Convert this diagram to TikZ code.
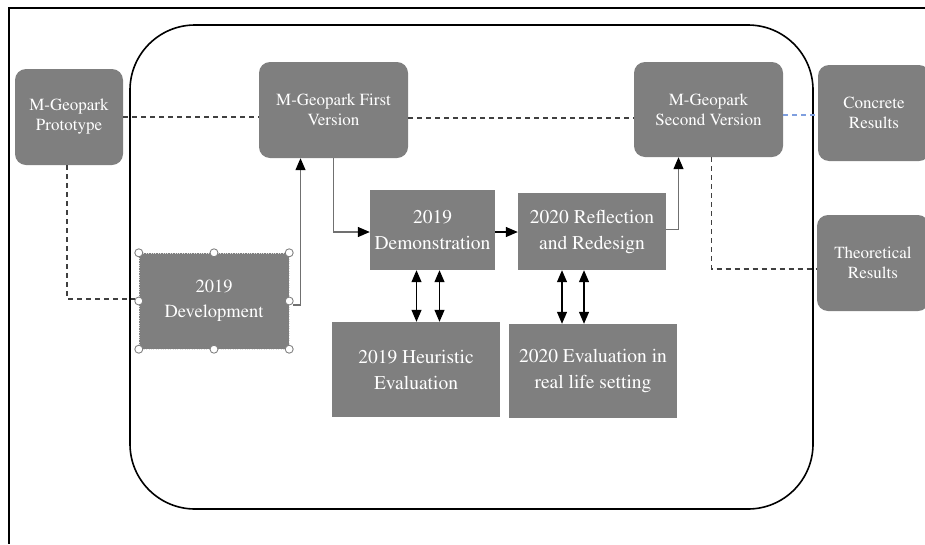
\documentclass[tikz,border=0pt]{standalone}
\usepackage[T1]{fontenc}
\usepackage{mathptmx}
\usetikzlibrary{arrows.meta}
\definecolor{boxgray}{HTML}{7F7F7F}
\definecolor{dashgray}{HTML}{404040}
\definecolor{linegray}{HTML}{707070}
\definecolor{dashblue}{HTML}{7F9FDF}
\newcommand\smalltxt{\fontsize{17}{20}\selectfont}
\newcommand\bigtxt{\fontsize{19.5}{26}\selectfont}
\tikzset{
  phase/.style={fill=boxgray, text=white, align=center, inner sep=0pt},
  rbox/.style={phase, rounded corners=11pt, font=\smalltxt},
  sbox/.style={phase, font=\bigtxt},
  dashline/.style={dashgray, line width=1.2pt, dash pattern=on 5pt off 4pt},
  grayline/.style={linegray, line width=1.2pt},
  handle/.style={fill=white, draw=gray, line width=0.9pt},
  tip/.style={-{Triangle[length=12pt,width=10pt,color=black]}},
}
\begin{document}
\begin{tikzpicture}[x=1pt, y=-1pt, >={Triangle[length=12pt,width=10pt]}]
    \clip (0,0) rectangle (925,544);
    % frame and cycle
    \draw[line width=1.8pt] (925,8) -- (9,8) -- (9,544);
    \draw[line width=1.6pt, rounded corners=65pt] (130,25) rectangle (813,509);

    \node[rbox, minimum width=108pt, minimum height=96pt] (proto) at (69,117) {M-Geopark\\Prototype};
    \node[rbox, minimum width=149pt, minimum height=96pt] (first) at (333.5,110) {M-Geopark First\\Version};
    \node[rbox, minimum width=149pt, minimum height=95pt] (second) at (708.5,109.5) {M-Geopark\\Second Version};
    \node[rbox, minimum width=112pt, minimum height=96pt] (concrete) at (874,113) {Concrete\\Results};
    \node[rbox, minimum width=112pt, minimum height=96pt] (theo) at (873,263) {Theoretical\\Results};

    \node[sbox, minimum width=150pt, minimum height=96pt, font=\fontsize{18.5}{25}\selectfont,
          draw=white!75!gray, dotted] (dev) at (214,301) {2019\\Development};
    \node[sbox, minimum width=125pt, minimum height=80pt] (demo) at (432.5,230) {2019\\Demonstration};
    \node[sbox, minimum width=148pt, minimum height=77pt] (refl) at (592,231.5) {2020 Reflection\\and Redesign};
    \node[sbox, minimum width=168pt, minimum height=95pt] (heur) at (416,369.5) {2019 Heuristic\\Evaluation};
    \node[sbox, minimum width=168pt, minimum height=94pt] (evalrl) at (593,371) {2020 Evaluation in\\real life setting};

    % selection handles
    \foreach \a in {north west,north,north east,west,east,south west,south,south east}
        \draw[handle] (dev.\a) circle (4pt);

    % dashed links
    \draw[dashline] (proto.east) -- (proto.east -| first.west);
    \draw[dashline] ([yshift=-8pt]first.east) -- ([yshift=-8pt]first.east -| second.west);
    \draw[dashblue, line width=1.2pt, dash pattern=on 5pt off 4pt]
        ([yshift=-2pt]concrete.west -| second.east) -- ([yshift=-2pt]concrete.west);
    \draw[dashline] ([xshift=-2pt]proto.south) |- ([xshift=-4pt,yshift=2pt]dev.west);
    \draw[dashline] ([xshift=3pt]second.south) |- ([yshift=-6pt]theo.west);

    % process
    \draw[grayline, tip] ([xshift=4pt,yshift=-4pt]dev.east) -| ([xshift=-33pt]first.south);
    \draw[grayline, tip] (first.south) |- ([yshift=-2pt]demo.west);
    \draw[line width=1.2pt, ->] ([yshift=-2pt]demo.east) -- ([yshift=-2pt]demo.east -| refl.west);
    \draw[grayline, tip] ([yshift=2pt]refl.east) -| ([xshift=-30pt]second.south);

    % evaluation loops
    \foreach \dx in {-16,7}
        \draw[line width=1.2pt, <->] ([xshift=\dx pt]demo.south) -- ([xshift=\dx pt]demo.south |- heur.north);
    \foreach \dx in {-30,-8}
        \draw[line width=1.2pt, <->] ([xshift=\dx pt]refl.south) -- ([xshift=\dx pt]refl.south |- evalrl.north);
\end{tikzpicture}
\end{document}
